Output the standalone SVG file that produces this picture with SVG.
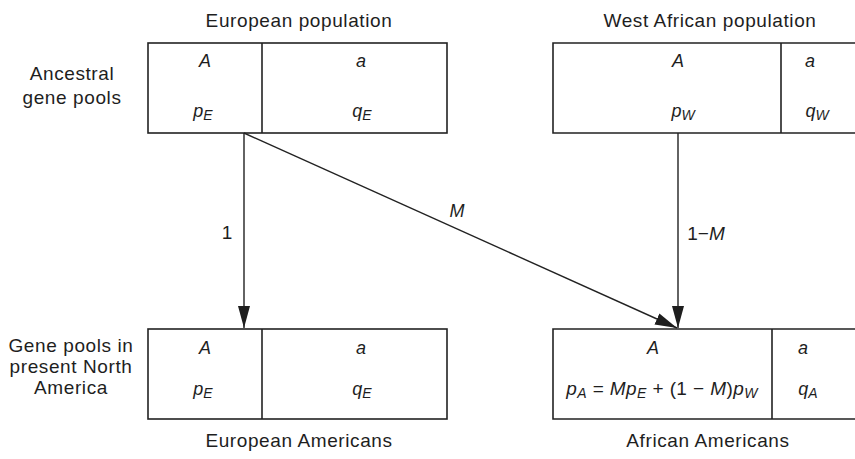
<svg xmlns="http://www.w3.org/2000/svg" width="855" height="459" viewBox="0 0 855 459">
<defs>
<style>
text{font-family:"Liberation Sans",Arial,sans-serif;fill:#1e1e1e}
.t{font-size:19px;letter-spacing:0.6px;text-anchor:middle}
.m{font-size:18px;font-style:italic;text-anchor:middle}
.s{font-size:14px}
.box{fill:none;stroke:#222;stroke-width:1.6}
.c{stroke:#222;stroke-width:1.4;fill:none}
</style>
<marker id="ah" markerUnits="userSpaceOnUse" markerWidth="24" markerHeight="14" viewBox="0 0 24 14" refX="22" refY="7" orient="auto">
<path d="M0,1 L22,7 L0,13 Z" fill="#1e1e1e"/>
</marker>
</defs>
<rect width="855" height="459" fill="#fff"/>
<text class="t" x="72" y="80">Ancestral</text>
<text class="t" x="72" y="104">gene pools</text>
<text class="t" x="71" y="352">Gene pools in</text>
<text class="t" x="71" y="373">present North</text>
<text class="t" x="71" y="394">America</text>
<g id="european-pop">
<text class="t" x="299" y="27">European population</text>
<rect class="box" x="148" y="43" width="299" height="90"/>
<line class="box" x1="262" y1="43" x2="262" y2="133"/>
<text class="m" x="205" y="67">A</text>
<text class="m" x="203" y="117">p<tspan class="s" dy="3">E</tspan></text>
<text class="m" x="361" y="67">a</text>
<text class="m" x="362" y="117">q<tspan class="s" dy="3">E</tspan></text>
</g>
<g id="west-african-pop">
<text class="t" x="710" y="27">West African population</text>
<path class="box" d="M856,43 H553 V133 H856 M781,43 V133"/>
<text class="m" x="678" y="67">A</text>
<text class="m" x="683" y="117">p<tspan class="s" dy="3">W</tspan></text>
<text class="m" x="810" y="67">a</text>
<text class="m" x="817" y="117">q<tspan class="s" dy="3">W</tspan></text>
</g>
<g id="european-americans">
<rect class="box" x="148" y="329" width="299" height="90"/>
<line class="box" x1="262" y1="329" x2="262" y2="419"/>
<text class="m" x="205" y="354">A</text>
<text class="m" x="203" y="395">p<tspan class="s" dy="3">E</tspan></text>
<text class="m" x="361" y="354">a</text>
<text class="m" x="362" y="395">q<tspan class="s" dy="3">E</tspan></text>
<text class="t" x="299" y="447">European Americans</text>
</g>
<g id="african-americans">
<path class="box" d="M856,329 H553 V419 H856 M772,329 V419"/>
<text class="m" x="653" y="354">A</text>
<text class="m" x="662" y="395" style="font-size:19px;letter-spacing:0.4px">p<tspan class="s" dy="3">A</tspan><tspan dy="-3" font-style="normal"> = </tspan>Mp<tspan class="s" dy="3">E</tspan><tspan dy="-3" font-style="normal"> + (1 − </tspan>M<tspan font-style="normal">)</tspan>p<tspan class="s" dy="3">W</tspan></text>
<text class="m" x="803" y="354">a</text>
<text class="m" x="808" y="395">q<tspan class="s" dy="3">A</tspan></text>
<text class="t" x="708" y="447">African Americans</text>
</g>
<g id="connectors">
<line class="c" x1="244" y1="133" x2="244" y2="328" marker-end="url(#ah)"/>
<line class="c" x1="244" y1="133" x2="677" y2="328" marker-end="url(#ah)"/>
<line class="c" x1="678" y1="133" x2="678" y2="328" marker-end="url(#ah)"/>
<text class="t" x="227" y="239" style="letter-spacing:0">1</text>
<text class="m" x="457" y="217">M</text>
<text class="t" x="706" y="240" style="letter-spacing:0">1−<tspan font-style="italic">M</tspan></text>
</g>
</svg>
